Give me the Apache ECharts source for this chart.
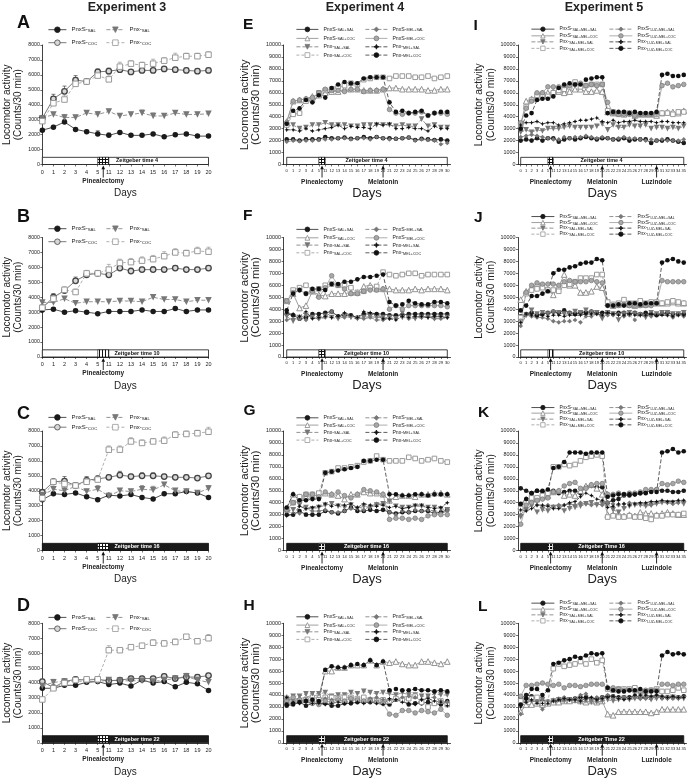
<!DOCTYPE html>
<html><head><meta charset="utf-8">
<script src="https://cdn.jsdelivr.net/npm/echarts@6/dist/echarts.min.js"></script>
<style>html,body{margin:0;padding:0;background:#fff;}#c{width:689px;height:779px;}</style>
</head><body><div id="c"></div>
<script>
// ---------- categories ----------
const days3 = ['0','1','2','3','4','5','11','12','13','14','15','16','17','18','19','20'];
const days4 = ['0','1','2','3','4','5','11','12','13','14','15','16','17','18','19','20','21','22','23','24','25','26','27','28','29','30'];
const days5 = ['0','1','2','3','4','5','11','12','13','14','15','16','17','18','19','20','21','22','23','24','25','26','27','28','29','30','31','32','33','34','35'];
const yMax3 = 8000, yMax45 = 10000, yStep = 1000;

// ---------- Experiment 3 (means, then SEM) ----------
const A_PnxS_SAL = [2300,2500,2850,2350,2200,2050,1950,2150,1950,1950,2050,1850,2000,2050,1900,1900];
const A_PnxS_COC = [3100,4400,4900,5650,5550,6200,6250,6350,6200,6300,6300,6400,6350,6300,6250,6300];
const A_Pnx_SAL  = [3100,3350,3150,3150,3450,3350,3550,3250,3350,3450,3250,3250,3450,3350,3350,3400];
const A_Pnx_COC  = [2900,4100,4350,5400,5550,5950,5700,6550,6750,6650,6750,6950,7150,7250,7250,7350];
const A_PnxS_SAL_sem = [100,120,150,100,100,200,150,100,80,80,100,80,100,100,80,80];
const A_PnxS_COC_sem = [150,300,350,300,200,200,200,200,150,150,150,150,150,150,150,150];
const A_Pnx_SAL_sem  = [120,150,200,150,150,200,150,150,150,200,200,150,150,150,150,150];
const A_Pnx_COC_sem  = [150,250,300,250,200,250,300,300,200,200,300,200,300,200,200,200];

const B_PnxS_SAL = [3150,3200,3000,3100,3000,2900,3050,3050,3050,3150,3050,3050,3250,3050,3150,3150];
const B_PnxS_COC = [3300,4000,4450,5100,5500,5600,5500,5950,5750,5850,5850,5850,5950,5850,5850,5950];
const B_Pnx_SAL  = [3650,3650,3900,3600,3700,3700,3700,3750,3750,3700,4000,3850,3850,3700,3800,3800];
const B_Pnx_COC  = [3300,3900,4500,4350,5600,5600,5850,6300,6350,6450,6550,6750,7000,6950,7100,7050];
const B_PnxS_SAL_sem = [80,100,80,100,80,80,100,100,80,100,80,80,100,80,100,80];
const B_PnxS_COC_sem = [150,250,200,250,150,150,150,150,200,150,200,150,150,150,150,150];
const B_Pnx_SAL_sem  = [100,150,150,100,100,100,100,100,150,100,150,100,150,100,100,100];
const B_Pnx_COC_sem  = [150,300,200,200,200,200,350,250,250,250,250,300,250,200,250,300];

const C_PnxS_SAL = [3400,3800,3750,3850,3600,3400,3700,3650,3750,3550,3450,3800,3800,3950,3850,3550];
const C_PnxS_COC = [3900,4600,4650,4350,4700,4800,4900,5050,4950,5000,5000,4950,4900,4900,4850,5000];
const C_Pnx_SAL  = [3700,4100,4000,4300,3950,4100,3650,4000,3950,4100,4050,4400,4000,3950,3850,4150];
const C_Pnx_COC  = [3500,4600,4450,4350,4600,4750,6750,6750,7300,7200,7300,7350,7750,7800,7850,7950];
const C_PnxS_SAL_sem = [100,100,150,100,100,100,100,100,100,100,100,100,100,100,100,100];
const C_PnxS_COC_sem = [150,200,300,200,250,200,150,250,150,200,200,150,150,150,150,150];
const C_Pnx_SAL_sem  = [150,200,250,200,150,250,150,150,150,250,250,150,150,150,150,200];
const C_Pnx_COC_sem  = [150,150,200,200,300,250,250,250,250,200,200,250,200,200,200,300];

const D_PnxS_SAL = [3650,3650,3850,3850,4050,4100,3900,4000,3800,4200,4000,4100,3750,4050,3950,3500];
const D_PnxS_COC = [4100,3700,4100,4250,4200,4250,4150,4200,4300,4300,4300,4450,4300,4400,4400,4500];
const D_Pnx_SAL  = [3800,4050,4100,4150,4100,4100,4200,4150,4150,4150,4100,4200,4300,4450,4200,4050];
const D_Pnx_COC  = [2900,3650,4000,4200,4250,4250,6200,6200,6400,6500,6700,6650,6750,7100,6800,7000];
const D_PnxS_SAL_sem = [100,100,100,100,100,100,100,100,100,100,100,100,100,100,100,100];
const D_PnxS_COC_sem = [150,150,150,150,150,150,150,150,150,150,150,150,150,150,150,150];
const D_Pnx_SAL_sem  = [150,200,150,150,150,150,150,150,150,150,150,150,150,200,150,150];
const D_Pnx_COC_sem  = [150,150,150,150,150,150,300,150,150,150,200,200,200,150,150,250];

// ---------- Experiment 4 ----------
const E_PnxS_SALSAL = [2100,2100,2000,2100,2100,2100,2300,2200,2200,2250,2150,2200,2300,2200,2300,2200,2200,2150,2200,2250,2050,2150,2100,2050,2100,2000];
const E_PnxS_SALCOC = [3600,5300,5400,5500,5700,5800,6000,6100,6100,6300,6300,6300,6200,6200,6200,6300,6400,6400,6300,6300,6300,6300,6200,6200,6300,6300];
const E_Pnx_SALSAL  = [3200,3300,3000,3100,3300,3300,3500,3300,3300,3300,3200,3200,3300,3300,3300,3300,3300,3200,3300,3200,3200,3800,3200,3300,3100,3100];
const E_Pnx_SALCOC  = [3300,4200,4300,5300,5400,6000,6200,6300,6500,6600,6800,6700,7100,7200,7300,7300,7200,7400,7400,7400,7300,7300,7400,7200,7300,7400];
const E_PnxS_MELSAL = [1900,2000,1950,2000,2000,2050,2100,2100,2200,2200,2100,2200,2200,2100,2300,2200,2100,2150,2200,2250,2000,2100,2050,2000,1700,1800];
const E_PnxS_MELCOC = [3500,5300,5400,5500,5600,6000,6300,6200,6200,6100,6300,6300,6100,6200,6200,6300,4600,4300,4200,4300,4300,4400,4100,4300,4300,4200];
const E_Pnx_MELSAL  = [2900,2900,2800,3000,2800,2900,3000,3100,3300,3000,3200,3100,3100,3000,3400,3300,3400,3000,3000,3100,3000,3000,2800,3200,3000,3000];
const E_Pnx_MELCOC  = [3400,4500,4700,5400,5200,5800,5600,6400,6700,6900,6800,6800,7200,7300,7300,7300,5200,4400,4500,4300,4400,4500,4100,4300,4400,4400];

const F_PnxS_SALSAL = [3600,3500,3200,3300,3600,3600,3700,3800,3400,3500,3500,3300,3600,3600,3600,3600,3500,3500,3500,3600,3600,3600,3600,3600,3600,3600];
const F_PnxS_SALCOC = [4700,5300,4100,4300,5500,5200,5100,5300,5300,5300,5400,5400,5900,6000,5700,5700,5700,5600,5600,5600,5700,5600,5700,5700,5700,5600];
const F_Pnx_SALSAL  = [3400,3000,3300,3500,3300,3200,3400,3300,3200,3400,3300,3200,3300,3400,3300,3300,3300,3200,3300,3300,3200,3300,3300,3200,3300,3300];
const F_Pnx_SALCOC  = [4700,5600,5800,6000,5600,5700,6000,6100,6000,6000,5800,5400,5500,5800,5900,7100,6900,6800,6900,7000,7000,6800,6900,6900,6900,6900];
const F_PnxS_MELSAL = [3100,3200,3200,3100,3300,3200,3300,3800,3300,3300,3400,3300,3200,3300,3100,3100,3200,3200,3800,3200,3300,3300,3400,3200,3200,3300];
const F_PnxS_MELCOC = [4700,5400,5600,5300,5500,5000,5800,6800,6000,5700,5300,5300,5500,5600,5600,5700,4000,4300,4000,4300,4300,4300,4300,4300,4300,4200];
const F_Pnx_MELSAL  = [3700,3600,3400,3800,3200,3300,3400,3300,3400,3700,3500,3300,3800,3700,3600,3200,3200,3100,3400,3300,3400,3400,3300,3400,3400,3300];
const F_Pnx_MELCOC  = [3900,5300,5600,5300,5700,5700,5600,6100,6100,6300,6300,6500,6700,6700,6800,6900,4600,4300,4400,4700,4500,4400,4400,4600,4600,4500];

const G_PnxS_SALSAL = [3000,3000,3300,3000,3000,3000,3300,3200,3100,3300,3600,3300,3300,3400,3300,3400,3200,3100,3200,3200,3300,3300,3300,3100,3200,3400];
const G_PnxS_SALCOC = [3500,4700,4500,4500,4600,4600,4800,4700,4600,4300,4700,4700,4900,4800,4800,4700,4200,4500,4600,4600,4500,4700,4700,4800,4800,4700];
const G_Pnx_SALSAL  = [3300,3400,3800,3600,3500,3600,3800,3900,3700,3600,3800,3500,3700,3600,3800,3900,4100,3700,3600,3600,3700,3700,3600,3600,3500,3400];
const G_Pnx_SALCOC  = [3400,4000,4500,4700,4700,4800,6500,6600,6900,6900,7000,7100,7400,7500,7900,7600,7500,7500,7500,7800,7700,7500,7600,7700,7500,7400];
const G_PnxS_MELSAL = [3300,3100,3100,3500,3300,3300,3400,3200,3200,3300,3500,3600,3400,3700,3900,3900,3200,3000,3300,3200,3400,3300,3400,3300,3100,3300];
const G_PnxS_MELCOC = [3400,4000,4100,4700,4700,4500,4900,4700,4900,4600,4400,4700,5100,5000,4900,4700,2600,2700,2700,2600,2700,2600,2900,3000,3000,3000];
const G_Pnx_MELSAL  = [2900,3000,3700,3500,3600,3700,3900,3700,3800,3800,3900,3600,3900,3800,3700,3800,3600,3700,3500,3600,3800,3800,3600,3500,3600,4000];
const G_Pnx_MELCOC  = [3600,4700,4200,4200,4300,4300,6500,6600,6700,6800,6900,7000,7500,7500,7600,7600,4700,4700,4600,4600,4700,4700,4600,4700,4700,4700];

const H_PnxS_SALSAL = [3100,3200,3400,3100,3300,3300,3300,3100,3100,3300,3300,3400,3400,3400,3400,3300,3200,3600,3500,3200,3300,3300,3400,3300,3200,3500];
const H_PnxS_SALCOC = [3800,3500,3700,3800,4000,3900,6000,6000,6300,6300,6500,6500,6500,6900,6500,6800,6700,6800,6600,6500,6500,6800,6800,6700,6600,6800];
const H_Pnx_SALSAL  = [3700,3900,3900,4100,4100,4100,4200,3900,4000,4000,4200,4100,4300,4200,4100,4200,4100,4000,4200,4000,4000,3900,3900,4100,4000,4000];
const H_Pnx_SALCOC  = [3400,3400,3500,3600,3500,3600,3800,3800,3700,3800,3800,3700,3800,3600,3500,3600,3500,3700,3600,3700,3900,3400,3000,3300,3500,3200];
const H_PnxS_MELSAL = [3700,3600,3400,3600,3500,3400,3700,3600,3600,3400,3500,3600,3500,3700,3800,3600,3600,3600,3800,3900,3800,3600,3800,3800,3500,3400];
const H_PnxS_MELCOC = [3500,3800,3600,3500,3300,3200,3500,3400,3600,3500,3700,3600,3500,3500,3400,3300,2400,2300,2700,2700,2500,2700,2600,2500,2800,2300];
const H_Pnx_MELSAL  = [3800,3300,3300,3400,3300,3300,3200,3300,3400,3300,3400,3400,3300,3400,3300,3200,3700,3600,3400,3300,3200,3600,3700,3500,3400,3100];
const H_Pnx_MELCOC  = [3200,3300,3400,3500,3600,3500,6100,6400,6300,6300,6500,6600,6500,6900,6500,6800,4400,4500,4400,4400,4500,4400,4400,4300,4400,4300];

// ---------- Experiment 5 ----------
const I_PnxS_SAL_MEL_SAL = [2000,2100,2000,2200,2000,2200,2200,1900,2100,2200,2100,2200,2300,2200,2100,2200,2200,2100,2100,2200,2000,2100,2100,2100,1800,2000,2000,2100,2000,1900,1800];
const I_PnxS_SAL_MEL_COC = [3300,5300,5500,5600,6000,6000,6100,6100,6000,6100,6300,6300,6100,6100,6200,6100,4400,4300,4300,4200,4300,4100,4200,4200,4200,4100,4300,4400,4400,4300,4500];
const I_Pnx_SAL_MEL_SAL  = [2700,2900,2700,2900,2800,3000,3000,3000,3100,3200,3100,3100,3100,3100,3200,3400,2900,3300,3100,3100,3300,3200,3200,3300,3000,3100,3100,3000,3100,3000,3200];
const I_Pnx_SAL_MEL_COC  = [3400,4800,5400,5800,5700,5700,6000,6200,6300,6500,6900,6500,6600,6700,6700,6700,4500,4400,4200,4300,4300,4200,4200,4200,4200,4200,4300,4300,4200,4400,4400];
const I_PnxS_LUZ_MEL_SAL = [2300,2400,2500,2400,2300,2200,2100,2100,2300,2200,2300,2300,2400,2300,2200,2300,2200,2100,2200,2300,2200,2200,2100,2000,2100,2000,2100,2000,2000,2000,2100];
const I_PnxS_LUZ_MEL_COC = [3500,4700,5300,6000,6000,6500,6500,6500,6600,6600,6700,6800,6600,6700,6600,6700,5200,4300,4200,4200,4200,4100,4200,4200,4200,4300,6600,6800,6500,6600,6700];
const I_Pnx_LUZ_MEL_SAL  = [3300,3500,3500,3600,3400,3500,3500,3300,3400,3500,3600,3700,3700,3800,3900,3600,3500,3700,3500,3600,3600,3700,3600,3600,3600,3500,3600,3600,3500,3500,3500];
const I_Pnx_LUZ_MEL_COC  = [3000,4100,4300,5400,5500,5500,5700,6400,6700,6800,6700,6700,7100,7200,7300,7300,4300,4400,4400,4400,4300,4400,4300,4300,4300,4400,7500,7600,7400,7400,7500];

const J_PnxS_SAL_MEL_SAL = [3400,3600,3700,3500,3600,3700,3800,3700,3900,3700,3600,3700,3700,3800,3700,3700,3700,3600,3700,3700,3600,3700,3600,3700,3600,3500,3600,3700,3600,3600,3600];
const J_PnxS_SAL_MEL_COC = [4800,5500,5800,6100,6000,5600,5200,5900,6900,6000,6000,5400,5400,5500,5900,5800,4500,4300,4400,4500,4400,4300,4400,4400,4500,4500,4500,4500,4600,4500,4500];
const J_Pnx_SAL_MEL_SAL  = [3300,3500,3900,3600,3700,3600,3700,3700,3600,3600,3800,3700,3900,3700,3700,3200,3700,3600,3100,3600,3700,3600,3500,3300,3700,3600,3700,3700,3600,3600,3700];
const J_Pnx_SAL_MEL_COC  = [3300,5300,5600,5700,5800,5600,5600,5500,6000,6100,6300,6600,6600,6600,6900,6900,4600,4400,4500,4800,4500,4500,4700,4500,4600,4600,4500,4600,4700,4600,4500];
const J_PnxS_LUZ_MEL_SAL = [2600,3500,3400,3300,3300,3200,3000,2900,3000,3000,3100,2900,3400,3400,3600,3500,3500,3500,3600,3400,3500,3100,3600,3500,3400,3600,3600,3500,3300,3500,3400];
const J_PnxS_LUZ_MEL_COC = [3000,5400,6000,6200,6100,6100,6100,6000,6300,6400,6300,6300,6300,6400,6300,6200,4300,4300,4300,4400,4300,4300,4300,4300,4300,4500,6400,6300,6300,6300,6300];
const J_Pnx_LUZ_MEL_SAL  = [2900,3600,3500,3400,3500,3400,3500,3500,3400,3500,3500,3500,3600,3600,3600,3500,3700,3600,3500,3500,3600,3500,3500,3500,3600,3500,3500,3500,3400,3500,3500];
const J_Pnx_LUZ_MEL_COC  = [3900,4300,5100,5100,5300,5500,7000,7300,7300,7500,7600,7800,7900,7900,8200,8100,4300,4300,4400,4300,4500,4500,4400,4500,4500,4500,7900,8100,8200,8000,7900];

const K_PnxS_SAL_MEL_SAL = [5200,5000,4800,5000,4900,5000,5000,4800,4900,5000,5000,4800,5300,5400,5300,5300,4000,4200,4300,4600,4600,4700,4800,4900,5000,5100,5000,5000,4900,4900,5000];
const K_PnxS_SAL_MEL_COC = [3700,4300,4400,4300,4500,4600,4900,5000,4600,4700,4600,5000,5400,5500,5200,4700,3000,3000,3100,2900,3000,2900,3200,3100,3100,3000,3100,3200,3100,3000,3000];
const K_Pnx_SAL_MEL_SAL  = [2800,3400,3800,3200,3400,3300,3600,3600,3300,3500,3600,3700,3900,4000,3800,3900,3900,3400,3200,3500,3700,3800,3800,3700,3800,3900,4000,4000,4000,4000,3900];
const K_Pnx_SAL_MEL_COC  = [3500,4000,4400,4400,4600,4800,7000,7000,7200,7100,7200,7500,7800,7900,8000,7900,2800,2900,2800,2800,2900,2800,2800,2700,2600,2900,2900,3000,3000,3000,3100];
const K_PnxS_LUZ_MEL_SAL = [3000,3500,3800,3800,3700,3800,3700,3800,3800,3900,3800,4000,3900,3800,3900,3800,4000,3900,3800,3900,4000,3900,3900,3900,3800,4000,4100,4000,3900,4000,4100];
const K_PnxS_LUZ_MEL_COC = [2200,3800,4000,4200,4300,4400,4900,5000,5400,5600,5700,5200,5200,5500,5600,5600,4700,4700,4800,4700,4800,4800,4900,5100,5100,5100,5600,5500,5600,5800,5700];
const K_Pnx_LUZ_MEL_SAL  = [3400,3300,3500,3800,3800,3700,3500,3500,3800,4000,4100,4500,4800,4600,4300,4200,3600,3700,3900,3900,3800,3900,4000,4000,4100,4100,4200,4100,4100,4200,4200];
const K_Pnx_LUZ_MEL_COC  = [3900,4300,4800,5000,5000,5100,6900,7000,7400,8200,8200,8200,8100,8200,8200,8200,4500,4600,4700,4700,4700,4700,4800,4800,4900,4900,8200,8300,8500,8200,8300];

const L_PnxS_SAL_MEL_SAL = [3700,4000,3900,3700,3500,3300,3400,3500,3700,3600,3700,3800,3800,3700,3700,3800,3900,3900,3800,3800,3800,3900,3800,3800,3800,3900,3800,3800,3800,3800,3900];
const L_PnxS_SAL_MEL_COC = [2600,3200,3200,3300,3200,3300,3400,3400,3500,3500,3600,3500,3400,3500,3400,3500,2400,2300,2600,2600,2600,2600,2600,2600,2500,2600,2800,2800,2800,2800,2800];
const L_Pnx_SAL_MEL_SAL  = [3300,3400,3500,3400,3600,3300,3500,3600,3500,3600,3500,3400,3500,3400,3400,3500,3600,3500,3600,3700,3600,3700,3700,3700,3600,3700,3700,3700,3800,3700,3700];
const L_Pnx_SAL_MEL_COC  = [3500,3600,3700,3800,3300,3400,6200,6600,6400,6500,6600,6800,6600,7000,6700,6900,4500,4400,4500,4500,4500,4600,4300,4300,4400,4500,4300,4300,4400,4600,4400];
const L_PnxS_LUZ_MEL_SAL = [2400,3400,3500,3500,2800,3500,3600,3700,3800,3600,3700,4000,4100,3700,3800,3800,4000,3900,3700,3800,3700,3800,3700,3800,3900,3800,3900,3800,3700,3800,3800];
const L_PnxS_LUZ_MEL_COC = [3900,4800,4800,4900,5000,4900,4800,4900,4600,4800,4800,4700,4800,4900,4900,4900,4600,4600,4500,4400,4400,4300,4300,4400,4400,4400,4900,4900,4800,4900,4900];
const L_Pnx_LUZ_MEL_SAL  = [3000,3400,3600,3300,3300,3300,3500,3600,3700,3600,3600,3500,3700,3800,3600,3700,3800,3900,3700,3600,3700,4000,4000,4000,3900,4000,3900,3800,3900,3800,3800];
const L_Pnx_LUZ_MEL_COC  = [3200,3700,4500,4500,4000,4400,6600,6700,6900,7000,7200,7100,7300,7500,7400,7500,4600,4400,4300,4300,4400,4400,4500,4300,4300,4300,7300,7600,7400,7500,7400];

// ---------- texts ----------
const expTitles = ['Experiment 3','Experiment 4','Experiment 5'];
const ztLabels = [
  ['Zeitgeber time 4','Zeitgeber time 10','Zeitgeber time 16','Zeitgeber time 22'],
  ['Zeitgeber time 4','Zeitgeber time 10','Zeitgeber time 16','Zeitgeber time 22'],
  ['Zeitgeber time 4','Zeitgeber time 10','Zeitgeber Time 16','Zeitgeber Time 22']
];
const letters = [['A','B','C','D'],['E','F','G','H'],['I','J','K','L']];
const names3 = ['PnxS-SAL','PnxS-COC','Pnx-SAL','Pnx-COC'];
const names4 = ['PnxS-SAL+SAL','PnxS-SAL+COC','Pnx-SAL+SAL','Pnx-SAL+COC','PnxS-MEL+SAL','PnxS-MEL+COC','Pnx-MEL+SAL','Pnx-MEL+COC'];
const names5 = ['PnxS-SAL+MEL+SAL','PnxS-SAL+MEL+COC','Pnx-SAL+MEL+SAL','Pnx-SAL+MEL+COC','PnxS-LUZ+MEL+SAL','PnxS-LUZ+MEL+COC','Pnx-LUZ+MEL+SAL','Pnx-LUZ+MEL+COC'];

// ---------- styles ----------
const FONT = '"Liberation Sans", Arial, Helvetica, sans-serif';
const STAR = 'path://M0,-10L3,-3L10,0L3,3L0,10L-3,3L-10,0L-3,-3Z';
const ST = {
  blackSolid: {symbol:'circle', fill:'#1a1a1a', line:'solid', lc:'#222'},
  openCircle: {symbol:'circle', fill:'#d8d8d8', border:'#444', bw:1.3, line:'solid', lc:'#555'},
  invTri:     {symbol:'triangle', rot:180, fill:'#777', line:[4,2], lc:'#777'},
  openSquare: {symbol:'rect', fill:'#fff', border:'#999', bw:1, line:[3,2], lc:'#999'},
  openTri:    {symbol:'triangle', fill:'#fff', border:'#888', bw:0.9, line:'solid', lc:'#888'},
  diamond:    {symbol:'diamond', fill:'#777', line:[4,2], lc:'#777'},
  grayCircle: {symbol:'circle', fill:'#a8a8a8', border:'#777', bw:0.7, line:'solid', lc:'#999'},
  star:       {symbol:STAR, fill:'#111', line:[4,2], lc:'#333'},
  blackDashed:{symbol:'circle', fill:'#111', line:[4,2], lc:'#333'}
};
const styles3 = ['blackSolid','openCircle','invTri','openSquare'];
const styles45 = ['blackSolid','openTri','invTri','openSquare','diamond','grayCircle','star','blackDashed'];

const panelData = [
  [A_PnxS_SAL,A_PnxS_COC,A_Pnx_SAL,A_Pnx_COC],
  [B_PnxS_SAL,B_PnxS_COC,B_Pnx_SAL,B_Pnx_COC],
  [C_PnxS_SAL,C_PnxS_COC,C_Pnx_SAL,C_Pnx_COC],
  [D_PnxS_SAL,D_PnxS_COC,D_Pnx_SAL,D_Pnx_COC],
  [E_PnxS_SALSAL,E_PnxS_SALCOC,E_Pnx_SALSAL,E_Pnx_SALCOC,E_PnxS_MELSAL,E_PnxS_MELCOC,E_Pnx_MELSAL,E_Pnx_MELCOC],
  [F_PnxS_SALSAL,F_PnxS_SALCOC,F_Pnx_SALSAL,F_Pnx_SALCOC,F_PnxS_MELSAL,F_PnxS_MELCOC,F_Pnx_MELSAL,F_Pnx_MELCOC],
  [G_PnxS_SALSAL,G_PnxS_SALCOC,G_Pnx_SALSAL,G_Pnx_SALCOC,G_PnxS_MELSAL,G_PnxS_MELCOC,G_Pnx_MELSAL,G_Pnx_MELCOC],
  [H_PnxS_SALSAL,H_PnxS_SALCOC,H_Pnx_SALSAL,H_Pnx_SALCOC,H_PnxS_MELSAL,H_PnxS_MELCOC,H_Pnx_MELSAL,H_Pnx_MELCOC],
  [I_PnxS_SAL_MEL_SAL,I_PnxS_SAL_MEL_COC,I_Pnx_SAL_MEL_SAL,I_Pnx_SAL_MEL_COC,I_PnxS_LUZ_MEL_SAL,I_PnxS_LUZ_MEL_COC,I_Pnx_LUZ_MEL_SAL,I_Pnx_LUZ_MEL_COC],
  [J_PnxS_SAL_MEL_SAL,J_PnxS_SAL_MEL_COC,J_Pnx_SAL_MEL_SAL,J_Pnx_SAL_MEL_COC,J_PnxS_LUZ_MEL_SAL,J_PnxS_LUZ_MEL_COC,J_Pnx_LUZ_MEL_SAL,J_Pnx_LUZ_MEL_COC],
  [K_PnxS_SAL_MEL_SAL,K_PnxS_SAL_MEL_COC,K_Pnx_SAL_MEL_SAL,K_Pnx_SAL_MEL_COC,K_PnxS_LUZ_MEL_SAL,K_PnxS_LUZ_MEL_COC,K_Pnx_LUZ_MEL_SAL,K_Pnx_LUZ_MEL_COC],
  [L_PnxS_SAL_MEL_SAL,L_PnxS_SAL_MEL_COC,L_Pnx_SAL_MEL_SAL,L_Pnx_SAL_MEL_COC,L_PnxS_LUZ_MEL_SAL,L_PnxS_LUZ_MEL_COC,L_Pnx_LUZ_MEL_SAL,L_Pnx_LUZ_MEL_COC]
];
const panelSem = [
  [A_PnxS_SAL_sem,A_PnxS_COC_sem,A_Pnx_SAL_sem,A_Pnx_COC_sem],
  [B_PnxS_SAL_sem,B_PnxS_COC_sem,B_Pnx_SAL_sem,B_Pnx_COC_sem],
  [C_PnxS_SAL_sem,C_PnxS_COC_sem,C_Pnx_SAL_sem,C_Pnx_COC_sem],
  [D_PnxS_SAL_sem,D_PnxS_COC_sem,D_Pnx_SAL_sem,D_Pnx_COC_sem]
];

// ---------- layout ----------
const rowTop = [45, 237.5, 431, 623.3];
const plotH = 119.5;
const colLeft = [42, 283.5, 518];
const colW = [166.5, 167, 170.5];
const legendRows = {
  A:[30,43], B:[229,242], C:[417.7,427.5], D:[617.7,629],
  E:[29.3,38.3,46.7,55], F:[229.3,237.7,245,252.7], G:[417.7,425,432.3,440], H:[616.7,625,631.7,639.3],
  I:[29.3,36,42,48.5], J:[216.7,222.7,228.3,234.3], K:[407.7,413.3,419.3,425], L:[603.3,609.3,615,621]
};
const legendCols = [[48,106],[296,365],[531,609]];
const legendItemW = [18,22,23];
const legendFont = [6,5.2,4.8];
const legendIH = [7,6,5.5];
const hatchKind = [['grid','vstripe','grid','grid'],['grid','grid','darkgrid','darkgrid'],['grid','vstripe','darkgrid','darkgrid']];

function makePattern(kind){
  const c = document.createElement('canvas'); c.width = 3; c.height = 3;
  const x = c.getContext('2d');
  const dark = kind === 'darkgrid';
  x.fillStyle = dark ? '#111' : '#fff'; x.fillRect(0,0,3,3);
  x.fillStyle = dark ? '#eee' : '#111';
  x.fillRect(0,0,1,3);
  if (kind !== 'vstripe') x.fillRect(0,0,3,1);
  return {image:c, repeat:'repeat'};
}

function errRender(color){
  return function(params, api){
    const i = api.value(0), v = api.value(1), e = api.value(2);
    const a = api.coord([i, v]), b = api.coord([i, v + e]);
    const st = {stroke:color, lineWidth:0.7};
    return {type:'group', children:[
      {type:'line', shape:{x1:a[0], y1:a[1], x2:b[0], y2:b[1]}, style:st},
      {type:'line', shape:{x1:b[0]-2, y1:b[1], x2:b[0]+2, y2:b[1]}, style:st}
    ]};
  };
}

const grids=[], xAxes=[], yAxes=[], series=[], legends=[];
for (let c=0;c<3;c++){
  for (let r=0;r<4;r++){
    const gi = c*4+r;
    const L = letters[c][r];
    const cats = c===0?days3:(c===1?days4:days5);
    const names = c===0?names3:(c===1?names4:names5);
    const sty = c===0?styles3:styles45;
    const yMax = c===0?yMax3:yMax45;
    const dark = r>=2;
    grids.push({left:colLeft[c], top:rowTop[r], width:colW[c], height:plotH, containLabel:false});
    xAxes.push({
      type:'category', gridIndex:gi, data:cats, boundaryGap: c!==0,
      name:'Days', nameLocation:'middle', nameGap: c===0?29:28.7,
      nameTextStyle:{fontSize:c===0?10:13, fontFamily:FONT, color:'#222', verticalAlign:'middle'},
      axisLine:{lineStyle:{color:'#111', width:0.8}},
      axisTick:{show:true, alignWithLabel:true, interval:0, length:2, lineStyle:{color:'#111',width:0.6}},
      axisLabel:{interval:0, fontSize:c===0?5.5:4.1, margin:c===0?4.5:4, color:'#222', fontFamily:FONT},
      splitLine:{show:false}
    });
    yAxes.push({
      type:'value', gridIndex:gi, min:0, max:yMax, interval:yStep,
      name:'Locomotor activity\n(Counts/30 min)', nameLocation:'middle',
      nameGap: c===0?27:(c===1?32.3:31.5), nameRotate:90,
      nameTextStyle:{fontSize:c===0?10:(c===1?11.3:10.3), lineHeight:c===0?11.7:(c===1?11.5:11.6), fontFamily:FONT, color:'#222', align:'center', verticalAlign:'middle'},
      axisLine:{show:true, lineStyle:{color:'#111', width:0.8}},
      axisTick:{show:true, length:2, lineStyle:{color:'#111',width:0.6}},
      axisLabel:{fontSize:c===0?5.2:5.4, margin:2.5, color:'#222', fontFamily:FONT, formatter:(v)=>String(v)},
      splitLine:{show:false}
    });
    const barTop = c===0?480:600;
    const symSize = c===0?5.5:4.6;
    panelData[gi].forEach((arr,k)=>{
      const s = ST[sty[k]];
      if (c===0){
        const sem = panelSem[gi][k];
        series.push({
          type:'custom', xAxisIndex:gi, yAxisIndex:gi, silent:true, animation:false, z:2,
          data: arr.map((v,i)=>[i, v, sem[i]]), encode:{x:0, y:1},
          renderItem: errRender(s.border || s.lc)
        });
      }
      const ser = {
        type:'line', name:names[k], data:arr, xAxisIndex:gi, yAxisIndex:gi,
        symbol:s.symbol, symbolSize: s.symbol==='triangle'? symSize+1 : symSize, symbolRotate:s.rot||0,
        showSymbol:true, animation:false,
        itemStyle:{color:s.fill, borderColor:s.border||s.fill, borderWidth:s.bw||0},
        lineStyle:{color:s.lc, width:0.8, type:s.line},
        emphasis:{disabled:true}, z:3
      };
      if (k===0){
        ser.markArea = {
          silent:true, label:{show:false},
          data:[
            [{xAxis:cats[0], yAxis:0, itemStyle:{color: dark?'#1a1a1a':'#fff', borderColor:'#111', borderWidth:0.8, opacity:1}},
             {xAxis:cats[cats.length-1], yAxis:barTop}],
            [{xAxis:'5', yAxis:0, itemStyle:{color: makePattern(hatchKind[c][r]), borderColor:'#111', borderWidth:0.6, opacity:1}},
             {xAxis:'11', yAxis:barTop}]
          ]
        };
      }
      series.push(ser);
    });
    const rows = legendRows[L];
    const fs = legendFont[c], ih = legendIH[c];
    const perCol = c===0?2:4;
    names.forEach((nm,k)=>{
      const col = Math.floor(k/perCol), row = k%perCol;
      legends.push({
        data:[nm], left:legendCols[c][col], top:rows[row]-ih/2, orient:'vertical',
        itemWidth:legendItemW[c], itemHeight:ih, itemGap:0, padding:0, selectedMode:false,
        itemStyle:{borderWidth:0.8}, lineStyle:{width:0.8},
        formatter:(n)=>{const i=n.indexOf('-'); return '{m|'+n.slice(0,i+1)+'}{s|'+n.slice(i+1)+'}';},
        textStyle:{color:'#222', fontFamily:FONT, rich:{
          m:{fontSize:fs, lineHeight:ih, fontFamily:FONT, color:'#222'},
          s:{fontSize:fs*0.72, lineHeight:ih, fontFamily:FONT, color:'#222', verticalAlign:'bottom', padding:[ih*0.35,0,0,0]}
        }}
      });
    });
  }
}

const option = {
  animation:false, backgroundColor:'#fff',
  textStyle:{fontFamily:FONT},
  grid:grids, xAxis:xAxes, yAxis:yAxes, series:series, legend:legends
};
const chart = echarts.init(document.getElementById('c'), null, {renderer:'canvas', width:689, height:779});
chart.setOption(option);

// ---------- annotations ----------
const gfx = [];
const titleX = [127, 365, 604];
expTitles.forEach((t,i)=>gfx.push({type:'text', x:titleX[i], y:8, style:{text:t, fontSize:12.5, fontWeight:'bold', fontFamily:FONT, fill:'#222', textAlign:'center', textVerticalAlign:'middle'}}));
const letterPos = [[[17,23.5],[17,217],[17,414],[17,606.5]],[[243,25],[243,215.5],[243.5,410.5],[243.5,606]],[[473.5,25.5],[474,217.5],[478,412.5],[478,606.5]]];
const letterSize = [18,15.5,15.5];
const ztFrac = [0.57, 0.497, 0.496];
function arrow(x, y0){
  gfx.push({type:'line', shape:{x1:x, y1:y0+13, x2:x, y2:y0+3}, style:{stroke:'#111', lineWidth:0.9}, silent:true});
  gfx.push({type:'polygon', shape:{points:[[x,y0+1],[x-1.8,y0+4.8],[x+1.8,y0+4.8]]}, style:{fill:'#111'}, silent:true});
}
function label(x, y, t){
  gfx.push({type:'text', x:x, y:y, style:{text:t, fontSize:6.5, fontWeight:'bold', fontFamily:FONT, fill:'#222', textAlign:'center', textVerticalAlign:'middle'}, silent:true});
}
for (let c=0;c<3;c++){
  for (let r=0;r<4;r++){
    const gi=c*4+r;
    const cats = c===0?days3:(c===1?days4:days5);
    const barTop = c===0?480:600;
    const P = (i,v)=>chart.convertToPixel({gridIndex:gi},[i,v]);
    const p0 = P(0,0), pEnd = P(cats.length-1,0), pTop = P(0,barTop);
    const y0 = p0[1];
    gfx.push({type:'text', x:letterPos[c][r][0], y:letterPos[c][r][1], style:{text:letters[c][r], fontSize:letterSize[c], fontWeight:'bold', fontFamily:FONT, fill:'#111', textAlign:'left', textVerticalAlign:'middle'}});
    const zx = p0[0] + ztFrac[c]*(pEnd[0]-p0[0]);
    gfx.push({type:'text', x:zx, y:(y0+pTop[1])/2, z:10, style:{text:ztLabels[c][r], fontSize:5.5, fontWeight:'bold', fontFamily:FONT, fill: r>=2?'#fff':'#111', textAlign:'center', textVerticalAlign:'middle'}, silent:true});
    const px = (P(5,0)[0]+P(6,0)[0])/2;
    arrow(px, y0);
    label(px, y0 + (c===0?16.5:17.7), 'Pinealectomy');
    if (c>=1){
      const mx = P(15,0)[0];
      arrow(mx, y0); label(mx, y0+17.7, 'Melatonin');
    }
    if (c===2){
      const lx = P(25,0)[0];
      arrow(lx, y0); label(lx, y0+17.7, 'Luzindole');
    }
  }
}
chart.setOption({graphic:gfx});
</script>
</body></html>
